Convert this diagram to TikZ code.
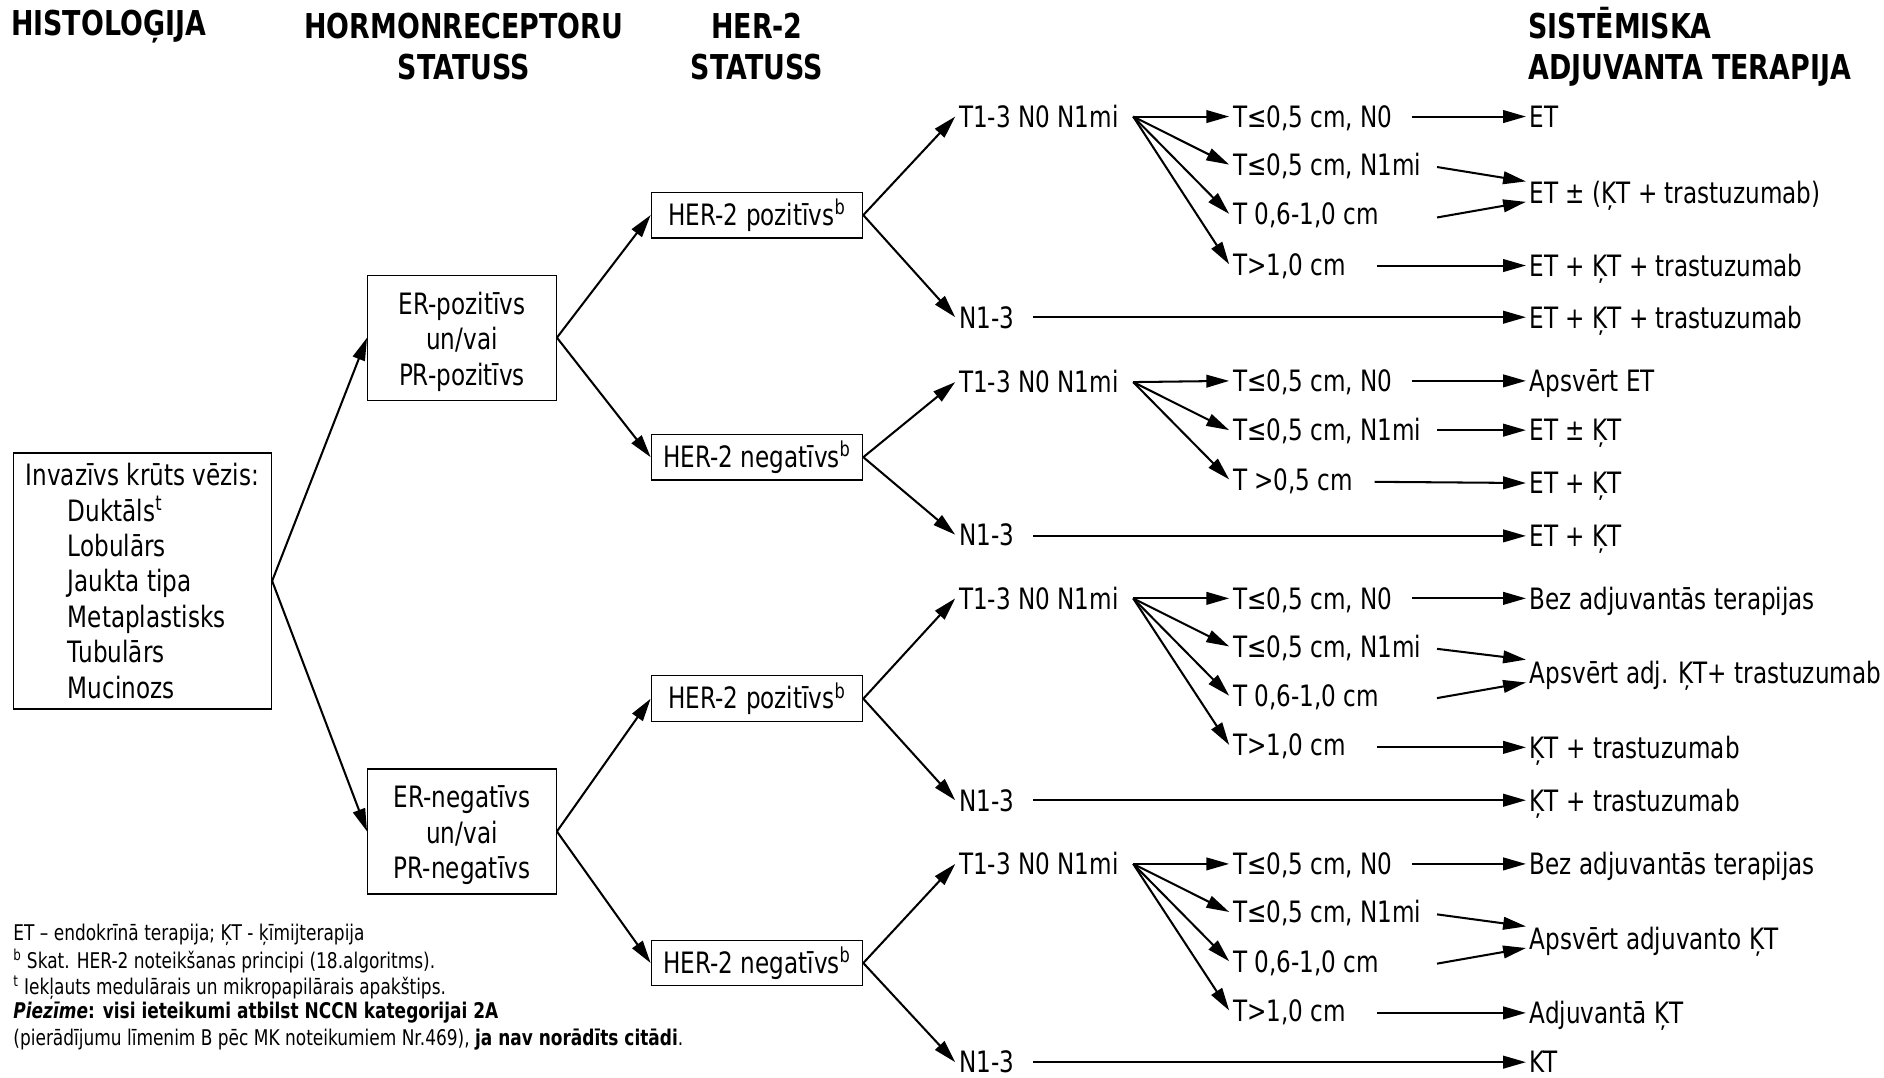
\documentclass[tikz,border=0pt]{standalone}
\usepackage{fontspec}
\setmainfont{DejaVu Sans}[FakeStretch=0.785]
\usetikzlibrary{arrows.meta,calc}

\newcommand\bodyfont{\fontsize{24.5}{29.5}\selectfont}
\newcommand\hdrfont{\fontsize{28.5}{34}\selectfont\bfseries}
\newcommand\notefont{\fontsize{18}{21.5}\selectfont}
\newcommand\topstrut{\rule{0pt}{25pt}}

\tikzset{
  hdr/.style={inner sep=0pt, font=\hdrfont},
  box/.style={draw, line width=1pt, inner sep=0pt, align=center, font=\bodyfont},
  lbl/.style={inner xsep=3pt, inner ysep=0pt, text height=18pt, text depth=0pt, anchor=west, font=\bodyfont},
  note/.style={inner sep=0pt, anchor=west, font=\notefont},
  arr/.style={line width=1.7pt, -{Triangle[length=19pt,width=10.5pt]}},
}

\begin{document}
\begin{tikzpicture}[x=1pt,y=-1pt]
\useasboundingbox (0,0) rectangle (1568,897);

% column headings
\node[hdr, anchor=west] (hHist) at (9,22) {HISTOLOĢIJA};
\node[hdr, align=center] (hHorm) at (386,39) {HORMONRECEPTORU\\STATUSS};
\node[hdr, align=center] (hHer) at (630,39) {HER-2\\STATUSS};
\node[hdr, align=left, anchor=west] (hSys) at (1272,39) {SISTĒMISKA\\ADJUVANTA TERAPIJA};

% histology
\node[box, minimum width=215pt, minimum height=213pt, align=left] (inv) at (118.5,483.5)
  {Invazīvs krūts vēzis:\\
   \hspace*{35pt}Duktāls\textsuperscript{t}\\
   \hspace*{35pt}Lobulārs\\
   \hspace*{35pt}Jaukta tipa\\
   \hspace*{35pt}Metaplastisks\\
   \hspace*{35pt}Tubulārs\\
   \hspace*{35pt}Mucinozs};

% hormone receptor status
\node[box, minimum width=157pt, minimum height=104pt] (erp) at (384.5,281) {\topstrut ER-pozitīvs\\un/vai\\PR-pozitīvs};
\node[box, minimum width=157pt, minimum height=104pt] (ern) at (384.5,692) {\topstrut ER-negatīvs\\un/vai\\PR-negatīvs};

% HER-2 status
\node[box, minimum width=176pt, minimum height=38pt] (hp1) at (630,179) {HER-2 pozitīvs\textsuperscript{b}};
\node[box, minimum width=176pt, minimum height=38pt] (hn1) at (630,380.5) {HER-2 negatīvs\textsuperscript{b}};
\node[box, minimum width=176pt, minimum height=38pt] (hp2) at (630,581.5) {HER-2 pozitīvs\textsuperscript{b}};
\node[box, minimum width=176pt, minimum height=38pt] (hn2) at (630,801.5) {HER-2 negatīvs\textsuperscript{b}};

\draw[arr] (inv.east) -- (erp.west);
\draw[arr] (inv.east) -- (ern.west);
\draw[arr] (erp.east) -- (hp1.west);
\draw[arr] (erp.east) -- (hn1.west);
\draw[arr] (ern.east) -- (hp2.west);
\draw[arr] (ern.east) -- (hn2.west);

% stage nodes
\node[lbl] (p1) at (795,97) {T1-3 N0 N1mi};
\node[lbl] (q1) at (795,264) {N1-3};
\node[lbl] (p2) at (795,318) {T1-3 N0 N1mi};
\node[lbl] (q2) at (795,445) {N1-3};
\node[lbl] (p3) at (795,498) {T1-3 N0 N1mi};
\node[lbl] (q3) at (795,666) {N1-3};
\node[lbl] (p4) at (795,719) {T1-3 N0 N1mi};
\node[lbl] (q4) at (795,884) {N1-3};

\draw[arr] (hp1.east) -- (p1.west);
\draw[arr] (hp1.east) -- (q1.west);
\draw[arr] (hn1.east) -- (p2.west);
\draw[arr] (hn1.east) -- (q2.west);
\draw[arr] (hp2.east) -- (p3.west);
\draw[arr] (hp2.east) -- (q3.west);
\draw[arr] (hn2.east) -- (p4.west);
\draw[arr] (hn2.east) -- (q4.west);

% tumour size subgroups
\node[lbl] (s11) at (1023,97)  {T≤0,5 cm, N0};
\node[lbl] (s12) at (1023,137) {T≤0,5 cm, N1mi};
\node[lbl] (s13) at (1023,178) {T 0,6-1,0 cm};
\node[lbl] (s14) at (1023,220) {T>1,0 cm};

\node[lbl] (s21) at (1023,317) {T≤0,5 cm, N0};
\node[lbl] (s22) at (1023,358) {T≤0,5 cm, N1mi};
\node[lbl] (s23) at (1023,399) {T >0,5 cm};

\node[lbl] (s31) at (1023,498) {T≤0,5 cm, N0};
\node[lbl] (s32) at (1023,538) {T≤0,5 cm, N1mi};
\node[lbl] (s33) at (1023,579) {T 0,6-1,0 cm};
\node[lbl] (s34) at (1023,620) {T>1,0 cm};

\node[lbl] (s41) at (1023,719) {T≤0,5 cm, N0};
\node[lbl] (s42) at (1023,759) {T≤0,5 cm, N1mi};
\node[lbl] (s43) at (1023,800) {T 0,6-1,0 cm};
\node[lbl] (s44) at (1023,841) {T>1,0 cm};

\coordinate (f1) at ($(p1.east)+(9,0)$);
\coordinate (f2) at ($(p2.east)+(9,0)$);
\coordinate (f3) at ($(p3.east)+(9,0)$);
\coordinate (f4) at ($(p4.east)+(9,0)$);

\foreach \g in {1,3,4}{
  \foreach \k in {1,2,3,4}{
    \draw[arr] (f\g) -- (s\g\k.west);
  }
}
\foreach \k in {1,2,3}{
  \draw[arr] (f2) -- (s2\k.west);
}

% adjuvant therapy
\node[lbl] (o11) at (1270,97)  {ET};
\node[lbl] (o12) at (1270,160) {ET ± (ĶT + trastuzumab)};
\node[lbl] (o14) at (1270,221) {ET + ĶT + trastuzumab};
\node[lbl] (r1)  at (1270,264) {ET + ĶT + trastuzumab};

\node[lbl] (o21) at (1270,317) {Apsvērt ET};
\node[lbl] (o22) at (1270,358) {ET ± ĶT};
\node[lbl] (o23) at (1270,402) {ET + ĶT};
\node[lbl] (r2)  at (1270,446) {ET + ĶT};

\node[lbl] (o31) at (1270,498) {Bez adjuvantās terapijas};
\node[lbl] (o32) at (1270,560) {Apsvērt adj. ĶT+ trastuzumab};
\node[lbl] (o34) at (1270,622) {ĶT + trastuzumab};
\node[lbl] (r3)  at (1270,666) {ĶT + trastuzumab};

\node[lbl] (o41) at (1270,719) {Bez adjuvantās terapijas};
\node[lbl] (o42) at (1270,781) {Apsvērt adjuvanto ĶT};
\node[lbl] (o44) at (1270,843) {Adjuvantā ĶT};
\node[lbl] (r4)  at (1270,884) {KT};

% arrow start points
\coordinate (c11) at (1175,97);
\coordinate (c12) at (1196,139);
\coordinate (c13) at (1196,181);
\coordinate (c14) at (1146,221);
\coordinate (c21) at (1175,317);
\coordinate (c22) at (1196,358);
\coordinate (c23) at (1144,401);
\coordinate (c31) at (1175,498);
\coordinate (c32) at (1196,540);
\coordinate (c33) at (1196,581);
\coordinate (c34) at (1146,622);
\coordinate (c41) at (1175,719);
\coordinate (c42) at (1196,761);
\coordinate (c43) at (1196,802);
\coordinate (c44) at (1146,843);
\coordinate (n1) at (860,264);
\coordinate (n2) at (860,446);
\coordinate (n3) at (860,666);
\coordinate (n4) at (860,884);

\draw[arr] (c11) -- (o11.west);
\draw[arr] (c12) -- ($(o12.west)+(0,-9)$);
\draw[arr] (c13) -- ($(o12.west)+(0,8)$);
\draw[arr] (c14) -- (o14.west);
\draw[arr] (n1) -- (r1.west);

\draw[arr] (c21) -- (o21.west);
\draw[arr] (c22) -- (o22.west);
\draw[arr] (c23) -- (o23.west);
\draw[arr] (n2) -- (r2.west);

\draw[arr] (c31) -- (o31.west);
\draw[arr] (c32) -- ($(o32.west)+(0,-11)$);
\draw[arr] (c33) -- ($(o32.west)+(0,8)$);
\draw[arr] (c34) -- (o34.west);
\draw[arr] (n3) -- (r3.west);

\draw[arr] (c41) -- (o41.west);
\draw[arr] (c42) -- ($(o42.west)+(0,-10)$);
\draw[arr] (c43) -- ($(o42.west)+(0,8)$);
\draw[arr] (c44) -- (o44.west);
\draw[arr] (n4) -- (r4.west);

% notes
\node[note] (fn1) at (11,778) {ET – endokrīnā terapija; ĶT - ķīmijterapija};
\node[note] (fn2) at (11,800) {\textsuperscript{b} Skat. HER-2 noteikšanas principi (18.algoritms).};
\node[note] (fn3) at (11,822) {\textsuperscript{t} Iekļauts medulārais un mikropapilārais apakštips.};
\node[note] (fn4) at (11,843) {\textbf{\textit{Piezīme}: visi ieteikumi atbilst NCCN kategorijai 2A}};
\node[note] (fn5) at (11,865) {(pierādījumu līmenim B pēc MK noteikumiem Nr.469), \textbf{ja nav norādīts citādi}.};
\end{tikzpicture}
\end{document}
